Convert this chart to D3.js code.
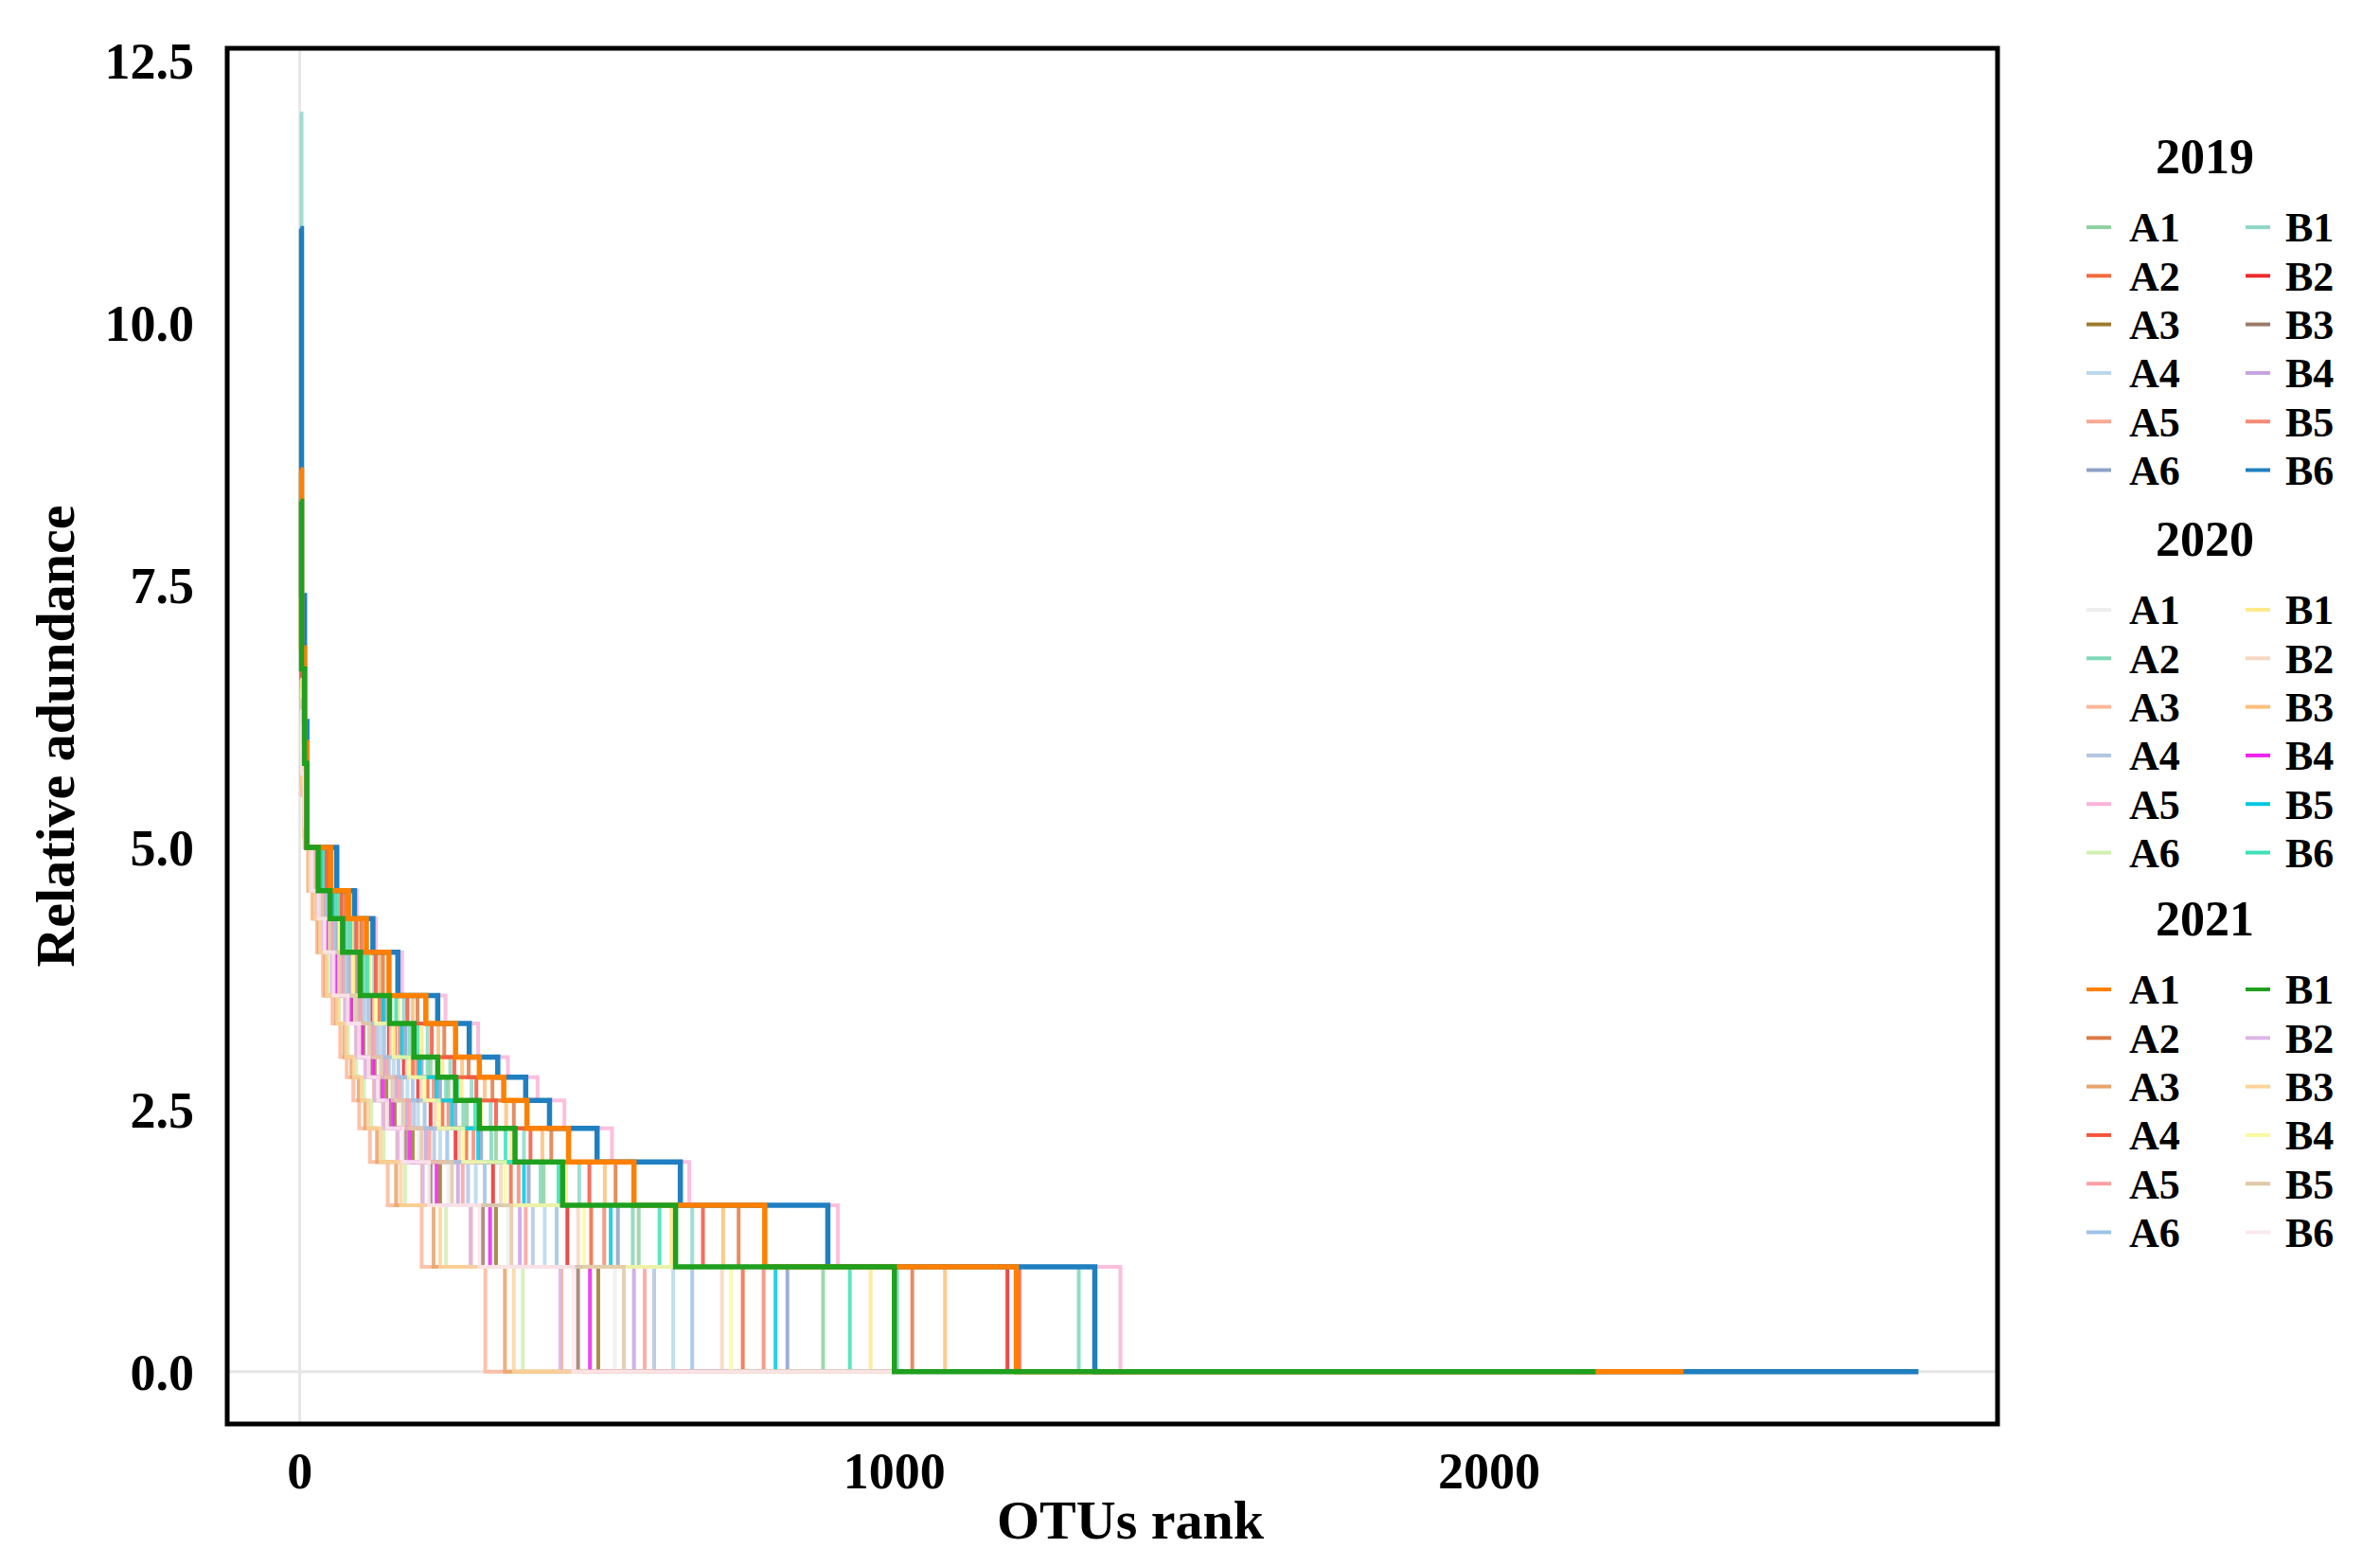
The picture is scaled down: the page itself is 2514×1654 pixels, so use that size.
<!DOCTYPE html>
<html><head><meta charset="utf-8">
<script src="https://cdn.jsdelivr.net/npm/d3@7"></script>
<style>body{margin:0;background:#fff}</style></head>
<body><svg id="c" width="2514" height="1654"></svg>
<script>
const years = ["2019","2020","2021"];
const sites = ["A1","A2","A3","A4","A5","A6","B1","B2","B3","B4","B5","B6"];
const colors = {
 "2019":["#8fd1a0","#f4693c","#9c7a2a","#b9d7ea","#f9a992","#8ea2c8","#8fd8c8","#ee2a2a","#9b7b6a","#c5a3e0","#f78a72","#1f7fc0"],
 "2020":["#eeeeee","#7fd8b8","#fdb79a","#b3c6e0","#fbb4d8","#d1efb0","#fde98a","#f6d7c0","#fdbf7a","#ee22ee","#00c8e0","#3ee0b8"],
 "2021":["#ff8000","#e07a45","#e8a36a","#f4553c","#fba0a0","#9cc3e6","#1fa01f","#dcb8e8","#fdd49a","#fafaa0","#e0c8a8","#fbe6f0"]
};
// step levels (log2 of read count) and the rank at which each series drops below that level
const levels = [5, 4.585, 4.32, 4, 3.585, 3.32, 3, 2.807, 2.585, 2.32, 2, 1.585, 1, 0];
const headRanks = [1, 3, 8];
const series = {
 "2019":[
  {top:7.2,head:[6.3,5.6],drops:[40,61,80,110,152,190,220,250,281,330,410,570,880],end:1700},
  {top:6.9,head:[6.1,5.5],drops:[33,52,68,92,133,160,190,215,240,280,355,490,745],end:1600},
  {top:6.5,head:[5.9,5.3],drops:[22,35,46,60,90,107,126,146,160,190,236,330,502],end:1400},
  {top:6.8,head:[6.0,5.4],drops:[28,44,58,79,111,136,158,181,199,236,296,412,628],end:1500},
  {top:6.2,head:[5.7,5.2],drops:[18,29,41,55,76,95,112,125,141,164,206,288,440],end:1300},
  {top:7.0,head:[6.2,5.5],drops:[37,56,75,100,143,178,205,236,262,305,385,535,820],end:1650},
  {top:12.0,head:[7.0,5.9],drops:[44,69,91,125,175,215,253,289,321,377,470,660,1005],end:1900},
  {top:6.6,head:[5.9,5.3],drops:[30,47,64,86,122,150,175,199,220,262,325,450,1190],end:1750},
  {top:6.3,head:[5.8,5.2],drops:[20,31,43,57,82,101,118,135,150,177,220,308,468],end:1350},
  {top:6.4,head:[5.8,5.3],drops:[25,39,52,70,99,122,142,162,180,212,266,370,562],end:1450},
  {top:6.7,head:[6.0,5.4],drops:[35,53,71,96,138,168,197,225,250,292,368,512,780],end:1550},
  {top:10.9,head:[7.4,6.2],drops:[62,92,123,165,232,285,333,380,420,500,640,888,1337],end:2722}
 ],
 "2020":[
  {top:6.4,head:[5.8,5.2],drops:[23,37,49,65,93,114,134,152,170,200,250,350,530],end:1400},
  {top:6.9,head:[6.1,5.5],drops:[39,59,80,107,150,185,215,246,275,322,405,560,1310],end:1700},
  {top:6.0,head:[5.5,5.0],drops:[14,21,29,39,55,68,79,90,100,118,148,205,312],end:1200},
  {top:6.5,head:[5.9,5.3],drops:[27,42,56,75,106,130,150,172,192,226,283,392,596],end:1450},
  {top:7.4,head:[6.5,5.8],drops:[64,96,128,172,245,300,350,400,445,525,655,905,1380],end:1950},
  {top:6.2,head:[5.6,5.1],drops:[17,26,35,47,66,81,95,108,120,141,177,246,375],end:1250},
  {top:6.8,head:[6.0,5.5],drops:[42,65,87,117,166,205,240,272,305,356,448,625,960],end:1800},
  {top:6.6,head:[5.9,5.3],drops:[31,49,66,88,125,153,180,204,228,268,338,468,710],end:1500},
  {top:7.0,head:[6.3,5.6],drops:[48,74,100,135,190,233,273,311,347,408,513,712,1085],end:1850},
  {top:6.3,head:[5.7,5.2],drops:[21,33,45,60,86,105,123,140,156,184,230,320,488],end:1350},
  {top:6.7,head:[6.0,5.4],drops:[36,55,74,99,140,172,201,230,256,300,377,523,800],end:1600},
  {top:6.9,head:[6.1,5.5],drops:[41,63,85,114,162,198,232,265,295,346,435,605,925],end:1750}
 ],
 "2021":[
  {top:8.6,head:[6.9,6.0],drops:[52,82,112,150,212,262,302,343,382,452,562,782,1205],end:2327},
  {top:7.3,head:[6.4,5.7],drops:[50,77,104,140,198,243,284,324,360,423,531,738,1030],end:2000},
  {top:6.1,head:[5.6,5.1],drops:[15,24,32,43,61,75,87,99,110,130,162,225,345],end:1150},
  {top:6.8,head:[6.1,5.5],drops:[45,70,95,128,181,222,260,297,330,388,487,678,1210],end:1900},
  {top:6.4,head:[5.8,5.2],drops:[26,40,54,72,102,125,146,167,185,218,274,380,580],end:1400},
  {top:6.5,head:[5.9,5.3],drops:[29,45,61,82,116,142,166,190,210,248,311,432,660],end:1500},
  {top:8.3,head:[6.7,5.8],drops:[31,51,72,102,151,192,232,262,302,362,442,632,1000],end:2179},
  {top:6.3,head:[5.7,5.2],drops:[19,30,40,54,77,95,110,126,140,165,207,287,438],end:1300},
  {top:6.2,head:[5.6,5.1],drops:[16,25,34,45,63,78,91,104,115,136,170,236,360],end:1250},
  {top:6.6,head:[5.9,5.3],drops:[32,50,67,90,128,158,184,210,234,275,345,478,725],end:1550},
  {top:6.4,head:[5.8,5.2],drops:[24,37,50,67,95,117,137,156,174,205,256,356,545],end:1400},
  {top:6.3,head:[5.7,5.2],drops:[20,32,42,57,81,100,116,132,147,173,217,302,460],end:1300}
 ]
};
const strong = {"2019":[11],"2020":[],"2021":[0,6]};
const yTicks = [0, 2.5, 5, 7.5, 10, 12.5];
const xTicks = [0, 1000, 2000];

const svg = d3.select("#c");
const P = {l:240, r:2110, t:51, b:1504};
const x = d3.scaleLinear().domain([-122, 2855]).range([P.l, P.r]);
const y = d3.scaleLinear().domain([-0.5, 12.62]).range([P.b, P.t]);
const font = "'Liberation Serif','Times New Roman',serif";

svg.append("line").attr("x1",P.l).attr("x2",P.r).attr("y1",y(0)).attr("y2",y(0)).attr("stroke","#e6e6e6").attr("stroke-width",3);
svg.append("line").attr("x1",x(0)).attr("x2",x(0)).attr("y1",P.t).attr("y2",P.b).attr("stroke","#e6e6e6").attr("stroke-width",3);

function pts(s){
  const p = [[headRanks[0], s.top],[headRanks[1], s.head[0]],[headRanks[2], s.head[1]]];
  let start = headRanks[2] + 4;
  levels.forEach((lv,i)=>{
    p.push([start, lv]);
    start = i < s.drops.length ? s.drops[i] : s.end;
  });
  p.push([s.end, 0]);
  return p;
}
const line = d3.line().x(d=>x(d[0])).y(d=>y(d[1])).curve(d3.curveStepAfter);
const g = svg.append("g");
const order = [];
years.forEach(yr=>series[yr].forEach((s,i)=>order.push({yr,i,s,strong:strong[yr].includes(i)})));
order.sort((a,b)=>a.strong-b.strong);
order.forEach(o=>{
  g.append("path").attr("d", line(pts(o.s))).attr("fill","none")
   .attr("stroke", colors[o.yr][o.i]).attr("stroke-width", o.strong?5.5:4)
   .attr("opacity", o.strong?1:0.85);
});

svg.append("rect").attr("x",P.l).attr("y",P.t).attr("width",P.r-P.l).attr("height",P.b-P.t)
  .attr("fill","none").attr("stroke","#000").attr("stroke-width",5);

yTicks.forEach(v=>{
  svg.append("text").attr("x",205).attr("y",y(v)).attr("dy","0.35em").attr("text-anchor","end")
   .attr("font-family",font).attr("font-weight","bold").attr("font-size",54).text(d3.format(".1f")(v));
});
xTicks.forEach(v=>{
  svg.append("text").attr("x",x(v)).attr("y",1572).attr("text-anchor","middle")
   .attr("font-family",font).attr("font-weight","bold").attr("font-size",54).text(v);
});
svg.append("text").attr("x",1194).attr("y",1625).attr("text-anchor","middle")
  .attr("font-family",font).attr("font-weight","bold").attr("font-size",58).text("OTUs rank");
svg.append("text").attr("transform",`translate(78,${(P.t+P.b)/2}) rotate(-90)`).attr("text-anchor","middle")
  .attr("font-family",font).attr("font-weight","bold").attr("font-size",58).text("Relative adundance");

const titleY = {"2019":165,"2020":569,"2021":970};
years.forEach(yr=>{
  svg.append("text").attr("x",2329).attr("y",titleY[yr]).attr("dy","0.35em").attr("text-anchor","middle")
   .attr("font-family",font).attr("font-weight","bold").attr("font-size",52).text(yr);
  sites.forEach((s,i)=>{
    const col = i<6?0:1, row = i%6;
    const yy = titleY[yr] + 75 + row*51.3;
    const lx = col?2372:2204;
    svg.append("line").attr("x1",lx).attr("x2",lx+26).attr("y1",yy).attr("y2",yy)
      .attr("stroke",colors[yr][i]).attr("stroke-width",4);
    svg.append("text").attr("x",col?2414:2249).attr("y",yy).attr("dy","0.35em")
      .attr("font-family",font).attr("font-weight","bold").attr("font-size",44).text(s);
  });
});
</script></body></html>
